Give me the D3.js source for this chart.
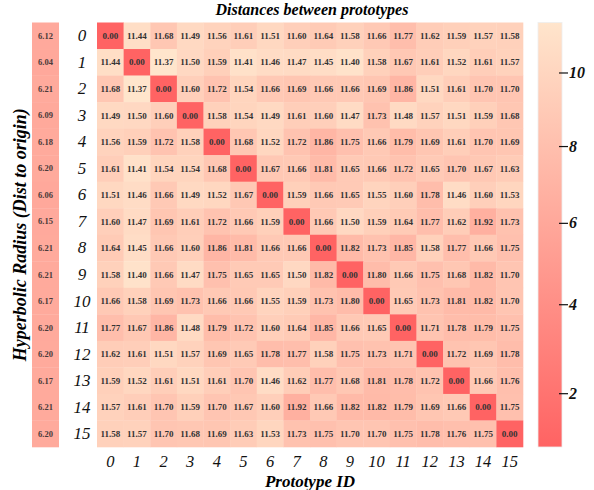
<!DOCTYPE html>
<html>
<head>
<meta charset="utf-8">
<script src="https://cdn.jsdelivr.net/npm/d3@7"></script>
<style>
  body { margin: 0; background: #fff; }
  svg text { font-family: "Liberation Serif", "Times New Roman", Times, serif !important; }
</style>
</head>
<body>
<div class="canvas"></div>
<script>
// data
const ids = d3.range(16).map(String);
const radius = [6.12, 6.04, 6.21, 6.09, 6.18, 6.20, 6.06, 6.15, 6.21, 6.21, 6.17, 6.20, 6.20, 6.17, 6.21, 6.20];
const distances = [
  [0.00, 11.44, 11.68, 11.49, 11.56, 11.61, 11.51, 11.60, 11.64, 11.58, 11.66, 11.77, 11.62, 11.59, 11.57, 11.58],
  [11.44, 0.00, 11.37, 11.50, 11.59, 11.41, 11.46, 11.47, 11.45, 11.40, 11.58, 11.67, 11.61, 11.52, 11.61, 11.57],
  [11.68, 11.37, 0.00, 11.60, 11.72, 11.54, 11.66, 11.69, 11.66, 11.66, 11.69, 11.86, 11.51, 11.61, 11.70, 11.70],
  [11.49, 11.50, 11.60, 0.00, 11.58, 11.54, 11.49, 11.61, 11.60, 11.47, 11.73, 11.48, 11.57, 11.51, 11.59, 11.68],
  [11.56, 11.59, 11.72, 11.58, 0.00, 11.68, 11.52, 11.72, 11.86, 11.75, 11.66, 11.79, 11.69, 11.61, 11.70, 11.69],
  [11.61, 11.41, 11.54, 11.54, 11.68, 0.00, 11.67, 11.66, 11.81, 11.65, 11.66, 11.72, 11.65, 11.70, 11.67, 11.63],
  [11.51, 11.46, 11.66, 11.49, 11.52, 11.67, 0.00, 11.59, 11.66, 11.65, 11.55, 11.60, 11.78, 11.46, 11.60, 11.53],
  [11.60, 11.47, 11.69, 11.61, 11.72, 11.66, 11.59, 0.00, 11.66, 11.50, 11.59, 11.64, 11.77, 11.62, 11.92, 11.73],
  [11.64, 11.45, 11.66, 11.60, 11.86, 11.81, 11.66, 11.66, 0.00, 11.82, 11.73, 11.85, 11.58, 11.77, 11.66, 11.75],
  [11.58, 11.40, 11.66, 11.47, 11.75, 11.65, 11.65, 11.50, 11.82, 0.00, 11.80, 11.66, 11.75, 11.68, 11.82, 11.70],
  [11.66, 11.58, 11.69, 11.73, 11.66, 11.66, 11.55, 11.59, 11.73, 11.80, 0.00, 11.65, 11.73, 11.81, 11.82, 11.70],
  [11.77, 11.67, 11.86, 11.48, 11.79, 11.72, 11.60, 11.64, 11.85, 11.66, 11.65, 0.00, 11.71, 11.78, 11.79, 11.75],
  [11.62, 11.61, 11.51, 11.57, 11.69, 11.65, 11.78, 11.77, 11.58, 11.75, 11.73, 11.71, 0.00, 11.72, 11.69, 11.78],
  [11.59, 11.52, 11.61, 11.51, 11.61, 11.70, 11.46, 11.62, 11.77, 11.68, 11.81, 11.78, 11.72, 0.00, 11.66, 11.76],
  [11.57, 11.61, 11.70, 11.59, 11.70, 11.67, 11.60, 11.92, 11.66, 11.82, 11.82, 11.79, 11.69, 11.66, 0.00, 11.75],
  [11.58, 11.57, 11.70, 11.68, 11.69, 11.63, 11.53, 11.73, 11.75, 11.70, 11.70, 11.75, 11.78, 11.76, 11.75, 0.00]
];
const barTicks = [2, 4, 6, 8, 10];

const width = 594;
const height = 490;
const grid = { left: 97, top: 22.5, right: 523, bottom: 447 };

const svg = d3
  .select(".canvas")
  .append("svg")
  .attr("width", width)
  .attr("height", height);

// scales
const x = d3.scaleBand().domain(ids).range([grid.left, grid.right]);
const y = d3.scaleBand().domain(ids).range([grid.top, grid.bottom]);

const red = "#ff6363";
const light = "#ffe5cc";
const cellColor = d3
  .scaleLinear()
  .domain([0, 11.37, 11.92])
  .range([red, light, "#ffb0a0"]);

// colorbar position scale (power norm)
const barY = d3
  .scalePow()
  .exponent(0.83)
  .domain([0.93, 11.4])
  .range([grid.bottom, grid.top]);
const barColor = (v) =>
  d3.interpolateRgb(red, light)((grid.bottom - barY(v)) / (grid.bottom - grid.top));

// cells
const cells = [];
distances.forEach((row, i) =>
  row.forEach((v, j) => cells.push({ r: ids[i], c: ids[j], v }))
);

svg
  .append("g")
  .selectAll("rect")
  .data(cells)
  .enter()
  .append("rect")
  .attr("x", (d) => x(d.c))
  .attr("y", (d) => y(d.r))
  .attr("width", x.bandwidth() + 0.3)
  .attr("height", y.bandwidth() + 0.3)
  .attr("fill", (d) => cellColor(d.v));

svg
  .append("g")
  .selectAll("text")
  .data(cells)
  .enter()
  .append("text")
  .attr("x", (d) => x(d.c) + x.bandwidth() / 2)
  .attr("y", (d) => y(d.r) + y.bandwidth() / 2)
  .attr("dy", "0.35em")
  .attr("text-anchor", "middle")
  .attr("font-size", 9)
  .attr("font-weight", "bold")
  .attr("fill", "#333")
  .text((d) => d.v.toFixed(2));

// radius column
const radX = 32;
const radW = 27;
svg
  .append("g")
  .selectAll("rect")
  .data(radius)
  .enter()
  .append("rect")
  .attr("x", radX)
  .attr("y", (d, i) => y(ids[i]))
  .attr("width", radW)
  .attr("height", y.bandwidth() + 0.3)
  .attr("fill", (d) => barColor(d));

svg
  .append("g")
  .selectAll("text")
  .data(radius)
  .enter()
  .append("text")
  .attr("x", radX + radW / 2)
  .attr("y", (d, i) => y(ids[i]) + y.bandwidth() / 2)
  .attr("dy", "0.35em")
  .attr("text-anchor", "middle")
  .attr("font-size", 8.5)
  .attr("font-weight", "bold")
  .attr("fill", "#4a3a3a")
  .text((d) => d.toFixed(2));

// row / column labels
const yAxis = d3.axisLeft(y).tickSize(0).tickPadding(0);
svg
  .append("g")
  .attr("transform", "translate(82,0)")
  .call(yAxis)
  .call((g) => g.select(".domain").remove())
  .selectAll("text")
  .attr("text-anchor", "middle")
  .attr("font-size", 17)
  .attr("font-style", "italic")
  .attr("fill", "#111");

const xAxis = d3.axisBottom(x).tickSize(0).tickPadding(0);
svg
  .append("g")
  .attr("transform", `translate(0,${grid.bottom + 8})`)
  .call(xAxis)
  .call((g) => g.select(".domain").remove())
  .selectAll("text")
  .attr("font-size", 16.5)
  .attr("font-style", "italic")
  .attr("fill", "#111");

// titles
svg
  .append("text")
  .attr("x", 312)
  .attr("y", 15)
  .attr("text-anchor", "middle")
  .attr("font-size", 16)
  .attr("font-weight", "bold")
  .attr("font-style", "italic")
  .text("Distances between prototypes");

svg
  .append("text")
  .attr("x", 310)
  .attr("y", 487)
  .attr("text-anchor", "middle")
  .attr("font-size", 17)
  .attr("font-weight", "bold")
  .attr("font-style", "italic")
  .text("Prototype ID");

svg
  .append("text")
  .attr("transform", `translate(26,${(grid.top + grid.bottom) / 2}) rotate(-90)`)
  .attr("text-anchor", "middle")
  .attr("font-size", 18)
  .attr("font-weight", "bold")
  .attr("font-style", "italic")
  .text("Hyperbolic Radius (Dist to origin)");

// colorbar
const defs = svg.append("defs");
const grad = defs
  .append("linearGradient")
  .attr("id", "cbar")
  .attr("x1", 0)
  .attr("y1", 1)
  .attr("x2", 0)
  .attr("y2", 0);
grad.append("stop").attr("offset", "0%").attr("stop-color", red);
grad.append("stop").attr("offset", "100%").attr("stop-color", light);

svg
  .append("rect")
  .attr("x", 538)
  .attr("y", grid.top)
  .attr("width", 24)
  .attr("height", grid.bottom - grid.top)
  .attr("fill", "url(#cbar)")
  .attr("stroke", "#eee")
  .attr("stroke-width", 0.8);

const barAxis = d3.axisRight(barY).tickValues(barTicks).tickSize(9).tickPadding(1);
svg
  .append("g")
  .attr("transform", "translate(559,0)")
  .call(barAxis)
  .call((g) => g.select(".domain").remove())
  .call((g) => g.selectAll("line").attr("stroke", "#111").attr("stroke-width", 1.2))
  .selectAll("text")
  .attr("font-size", 16)
  .attr("font-weight", "bold")
  .attr("font-style", "italic")
  .attr("fill", "#111");
</script>
</body>
</html>
